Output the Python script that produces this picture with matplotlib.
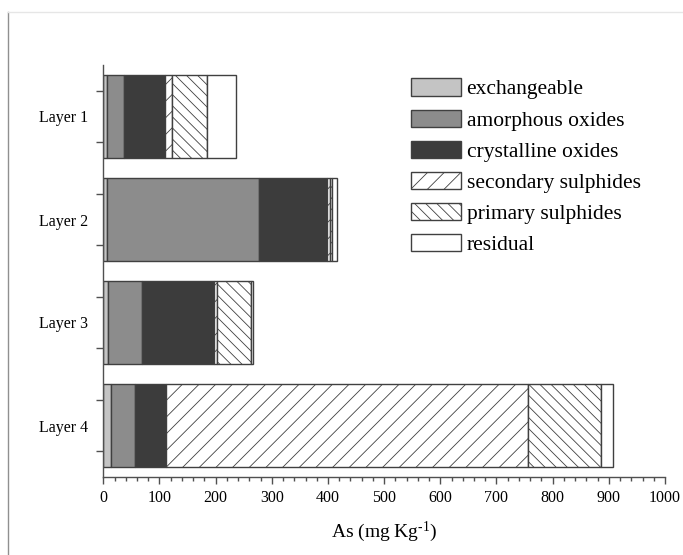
import matplotlib
matplotlib.use("Agg")
import matplotlib.pyplot as plt
from matplotlib.lines import Line2D
from matplotlib.ticker import MultipleLocator
import numpy as np

plt.rcParams['font.family'] = ['Liberation Serif', 'DejaVu Serif']
plt.rcParams['mathtext.fontset'] = 'custom'
plt.rcParams['mathtext.rm'] = 'Liberation Serif'
plt.rcParams['mathtext.it'] = 'Liberation Serif:italic'
plt.rcParams['hatch.linewidth'] = 0.6
plt.rcParams['hatch.color'] = '#404040'

layers = ["Layer 1", "Layer 2", "Layer 3", "Layer 4"]
fractions = ["exchangeable", "amorphous oxides", "crystalline oxides",
             "secondary sulphides", "primary sulphides", "residual"]
exchangeable = [6, 7, 9, 13]
amorphous = [31, 270, 60, 44]
crystalline = [72, 122, 128, 55]
secondary = [13, 4, 6, 644]
primary = [63, 5, 60, 130]
residual = [52, 8, 3, 22]
x_ticks = [0, 100, 200, 300, 400, 500, 600, 700, 800, 900, 1000]

series = [exchangeable, amorphous, crystalline, secondary, primary, residual]
colors = ['#c4c4c4', '#8c8c8c', '#3c3c3c', 'white', 'white', 'white']
hatches = [None, None, None, '//', '\\\\\\', None]

fig = plt.figure(figsize=(6.83, 5.55), dpi=100)
ax = fig.add_axes([103.3/683, 1-477/555, (665-103.3)/683, (477-65)/555])

ypos = np.arange(len(layers))
left = np.zeros(len(layers))
for vals, c, h, name in zip(series, colors, hatches, fractions):
    ax.barh(ypos, vals, left=left, height=0.8, color=c, edgecolor='#404040',
            linewidth=1.0, hatch=h, label=name)
    left = left + np.array(vals)

ax.set_xlim(0, 1000)
ax.set_ylim(3.5, -0.5)
ax.set_xticks(x_ticks)
ax.xaxis.set_minor_locator(MultipleLocator(20))
ax.set_yticks(ypos)
ax.set_yticklabels(layers)
ax.set_yticks(np.concatenate([ypos - 0.25, ypos + 0.25]), minor=True)

for s in ['top', 'right']:
    ax.spines[s].set_visible(False)
for s in ['left', 'bottom']:
    ax.spines[s].set_color('#505050')
    ax.spines[s].set_linewidth(1.0)

ax.tick_params(axis='x', which='major', length=5, width=1, color='#505050',
               labelsize=11.5, pad=4)
ax.tick_params(axis='x', which='minor', length=3, width=1, color='#505050')
ax.tick_params(axis='y', which='major', length=0, labelsize=11.5, pad=11)
ax.tick_params(axis='y', which='minor', length=5, width=1, color='#505050')

ax.set_xlabel('As (mg Kg$^{\\text{-}1}$)', fontsize=14, labelpad=10)

leg = ax.legend(loc='upper left', bbox_to_anchor=(411/683, 1-78.5/555),
                bbox_transform=fig.transFigure, frameon=False, fontsize=15.5,
                handlelength=2.3, handleheight=0.84, handletextpad=0.28,
                labelspacing=0.47, borderpad=0, borderaxespad=0)

fig.add_artist(Line2D([8/683, 8/683], [0, 1-12/555], transform=fig.transFigure,
                      color='#909090', linewidth=1.0))
fig.add_artist(Line2D([8/683, 1], [1-12/555, 1-12/555], transform=fig.transFigure,
                      color='#e6e6e6', linewidth=1.0))

fig.savefig('out.png', dpi=100)
